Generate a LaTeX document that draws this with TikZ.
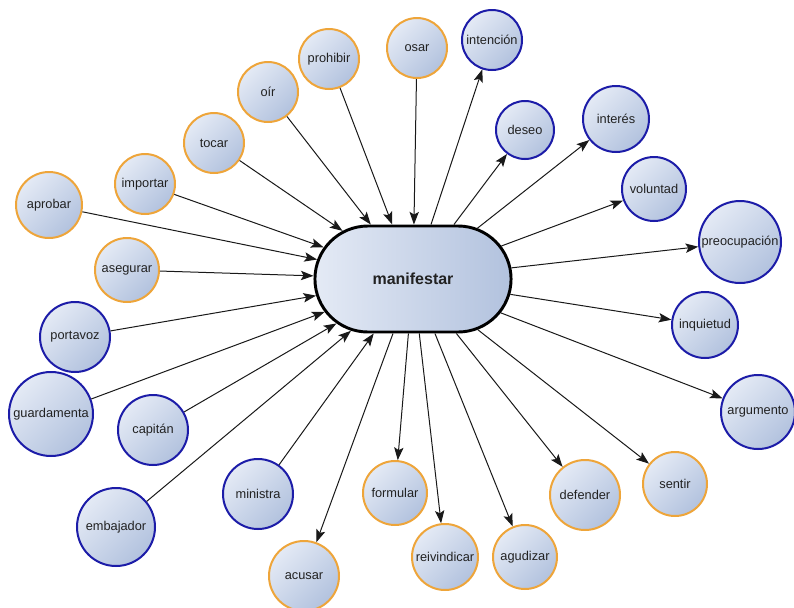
\documentclass[tikz,border=0pt]{standalone}
\usepackage{fontspec}
\setmainfont{Liberation Sans}
\usetikzlibrary{shapes.misc,arrows.meta}
\definecolor{obord}{HTML}{EEA53A}
\definecolor{bbord}{HTML}{1C1CA8}
\definecolor{fillA}{HTML}{E4EAF5}
\definecolor{fillB}{HTML}{B2C2DE}
\definecolor{txt}{HTML}{222222}
\tikzset{
  bub/.style={circle, inner sep=0pt, line width=1.5pt, shading=axis, top color=fillA, bottom color=fillB, shading angle=45, font=\fontsize{9.6}{11}\selectfont, text=txt},
  ob/.style={bub, draw=obord},
  bb/.style={bub, draw=bbord},
  hub/.style={rounded rectangle, draw=black, line width=2.2pt, shading=axis, left color=fillA, right color=fillB, minimum width=153.75pt, minimum height=79.5pt, font=\bfseries\fontsize{12}{14}\selectfont, text=txt},
  link/.style={line width=0.75pt, draw=black!90, -{Stealth[length=9.5pt,width=7pt,inset=2pt]}}
}
\newcommand{\bn}[5]{\node[#1, minimum size=#4*1.5pt] (#2) at (#3) {#5};}
\begin{document}
\begin{tikzpicture}[x=0.75pt,y=-0.75pt]
\useasboundingbox (0,0) rectangle (794,608);
\node[hub] (m) at (413,279) {manifestar};
% orange, incoming
\bn{ob}{aprobar}{49,205}{33}{aprobar}
\bn{ob}{importar}{145,184}{30}{importar}
\bn{ob}{asegurar}{127,270}{32}{asegurar}
\bn{ob}{tocar}{214,143}{30}{tocar}
\bn{ob}{oir}{268,92}{30}{oír}
\bn{ob}{prohibir}{329,59}{30}{prohibir}
\bn{ob}{osar}{417,48}{30}{osar}
% blue, incoming
\bn{bb}{portavoz}{75,337}{35}{portavoz}
\bn{bb}{guardamenta}{51,414}{42}{guardamenta}
\bn{bb}{capitan}{153,430}{35}{capitán}
\bn{bb}{embajador}{116,527}{39}{embajador}
\bn{bb}{ministra}{258,494}{35}{ministra}
% blue, outgoing
\bn{bb}{intencion}{492,40}{30}{intención}
\bn{bb}{deseo}{525,130}{29}{deseo}
\bn{bb}{interes}{616,119}{33}{interés}
\bn{bb}{voluntad}{654,189}{32}{voluntad}
\bn{bb}{preocupacion}{740,242}{41}{preocupación}
\bn{bb}{inquietud}{705,325}{33}{inquietud}
\bn{bb}{argumento}{758,412}{37}{argumento}
% orange, outgoing
\bn{ob}{sentir}{675,484}{32}{sentir}
\bn{ob}{defender}{585,495}{35}{defender}
\bn{ob}{agudizar}{525,557}{32}{agudizar}
\bn{ob}{reivindicar}{445,557}{33}{reivindicar}
\bn{ob}{formular}{395,493}{32}{formular}
\bn{ob}{acusar}{304,576}{35}{acusar}
\foreach \s in {aprobar,importar,asegurar,tocar,oir,prohibir,osar,portavoz,guardamenta,capitan,embajador,ministra}
  \draw[link] (\s) -- (m);
\foreach \t in {intencion,deseo,interes,voluntad,preocupacion,inquietud,argumento,sentir,defender,agudizar,reivindicar,formular,acusar}
  \draw[link] (m) -- (\t);
\end{tikzpicture}
\end{document}
